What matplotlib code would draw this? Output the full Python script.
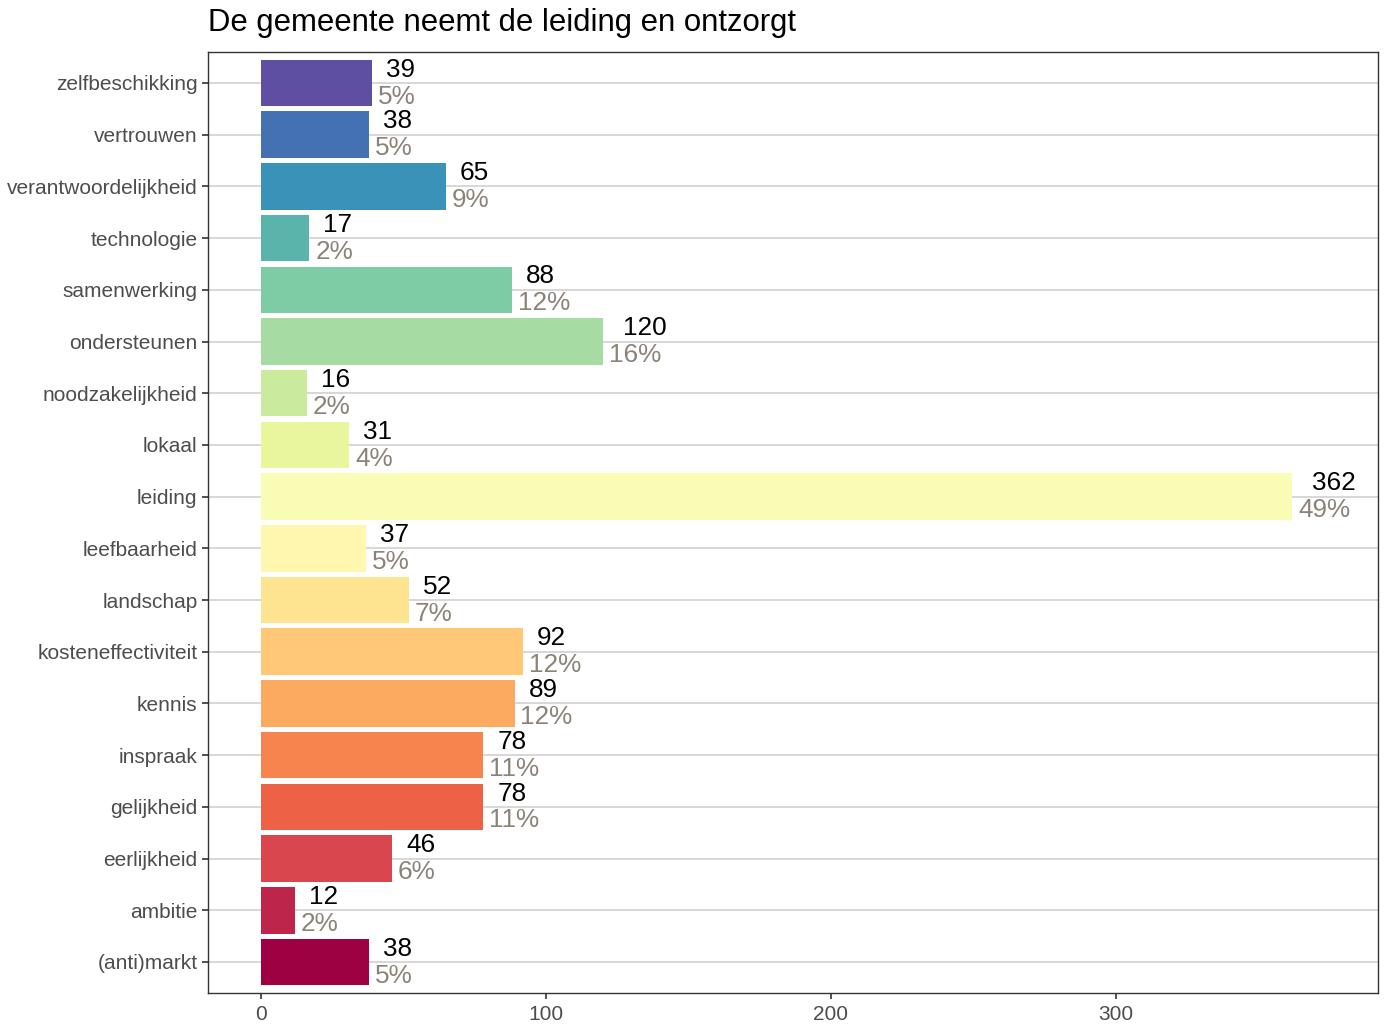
import matplotlib
matplotlib.use("Agg")
import matplotlib.pyplot as plt
import numpy as np

categories = ["zelfbeschikking", "vertrouwen", "verantwoordelijkheid", "technologie",
              "samenwerking", "ondersteunen", "noodzakelijkheid", "lokaal", "leiding",
              "leefbaarheid", "landschap", "kosteneffectiviteit", "kennis", "inspraak",
              "gelijkheid", "eerlijkheid", "ambitie", "(anti)markt"]
counts = [39, 38, 65, 17, 88, 120, 16, 31, 362, 37, 52, 92, 89, 78, 78, 46, 12, 38]
percents = ["5%", "5%", "9%", "2%", "12%", "16%", "2%", "4%", "49%", "5%", "7%",
            "12%", "12%", "11%", "11%", "6%", "2%", "5%"]
xticks = [0, 100, 200, 300]
title = "De gemeente neemt de leiding en ontzorgt"

plt.rcParams['font.family'] = ['Liberation Sans', 'DejaVu Sans']

fig = plt.figure(figsize=(13.85, 10.25), dpi=100)
ax = fig.add_axes([0.1502, 0.0312, 0.9949 - 0.1502, 0.9493 - 0.0312])

n = len(categories)
ypos = np.arange(n)[::-1]  # first category at top
cmap = matplotlib.colormaps['Spectral']
colors = [cmap(v) for v in np.linspace(1, 0, n)]  # top purple, bottom dark red

for y in ypos:
    ax.axhline(y, color='#D4D4D4', lw=1.3, zorder=0)

ax.barh(ypos, counts, height=0.9, color=colors, zorder=2)

for y, c, p in zip(ypos, counts, percents):
    s = str(c)
    ax.annotate(s, (c, y), xytext=(4.4 * len(s) + 1.2, 9.6), textcoords='offset points',
                ha='left', va='center', fontsize=18.8, color='black', zorder=3)
    ax.annotate(p, (c, y), xytext=(4.2, -9.8), textcoords='offset points',
                ha='left', va='center', fontsize=18.8, color='#8B8378', zorder=3)

ax.set_xlim(-18.6, 392)
ax.set_ylim(-0.6, n - 0.4)
ax.set_yticks(ypos)
ax.set_yticklabels(categories)
ax.set_xticks(xticks)
ax.set_xticklabels([str(t) for t in xticks])
ax.tick_params(axis='both', labelsize=15, labelcolor='#4D4D4D', color='#333333',
               length=4.5, width=1.2)
ax.tick_params(axis='x', pad=4)
ax.tick_params(axis='y', pad=3)
for sp in ax.spines.values():
    sp.set_color('#333333')
    sp.set_linewidth(1.0)

fig.text(0.1502, 0.978, title, fontsize=22.4, ha='left', va='center', color='black')

fig.savefig("out.png", dpi=100)
